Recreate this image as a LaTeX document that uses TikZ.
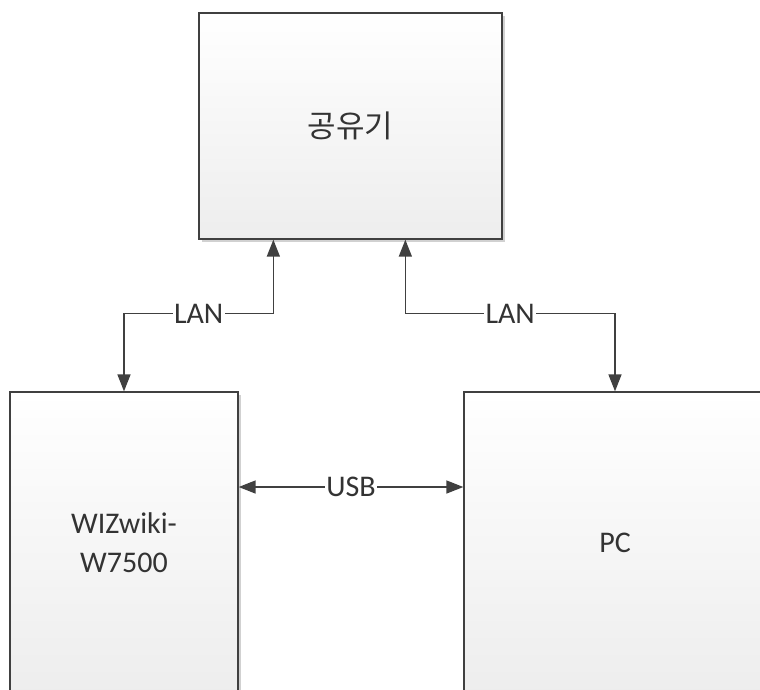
\documentclass[tikz,border=0pt]{standalone}
\usepackage{fontspec}
\setmainfont{Carlito}
\newfontfamily\krfont{Noto Sans CJK KR}
\usepackage{tikz}
\usetikzlibrary{positioning,arrows.meta,shadows}

\definecolor{edge}{HTML}{404040}
\definecolor{ink}{HTML}{333333}

\begin{document}
\begin{tikzpicture}[
			x=1pt, y=-1pt,
			box/.style = {draw=edge, line width=1.3pt, top color=white, bottom color=black!7,
				drop shadow={shadow xshift=2.5pt, shadow yshift=-2.5pt, opacity=.18, fill=black},
				text=ink, align=center, inner sep=0pt,
				font=\fontsize{30}{39}\selectfont},
			link/.style = {draw=edge, line width=1.5pt,
				{Triangle[length=17pt, width=13pt]}-{Triangle[length=17pt, width=13pt]}},
			lbl/.style = {fill=white, text=ink, inner sep=1.5pt,
				font=\fontsize{30}{36}\selectfont}
		]
		\path[use as bounding box, clip] (0,0) rectangle (760,689);
		% Top.
		\node[box, minimum width=303pt, minimum height=226pt] (router) at (350.5,126)
			{\krfont\fontsize{31}{36}\selectfont 공유기};
		% Bottom row.
		\node[box, minimum width=228pt, minimum height=302pt] (wiz) at (124,543) {WIZwiki-\\W7500};
		\node[box, minimum width=302pt, minimum height=302pt] (pc) at (615,543) {PC};
		
		\draw[link] (wiz.north) |- node[lbl, pos=.75] {LAN}
			([xshift=75pt, yshift=-74pt]router.south west) -- ([xshift=75pt]router.south west);
		\draw[link] (pc.north) |- node[lbl, pos=.75] {LAN}
			([xshift=207pt, yshift=-74pt]router.south west) -- ([xshift=207pt]router.south west);
		\draw[link] ([yshift=56pt]wiz.east) -- node[lbl] {USB} ([yshift=56pt]pc.west);
	\end{tikzpicture}
\end{document}
